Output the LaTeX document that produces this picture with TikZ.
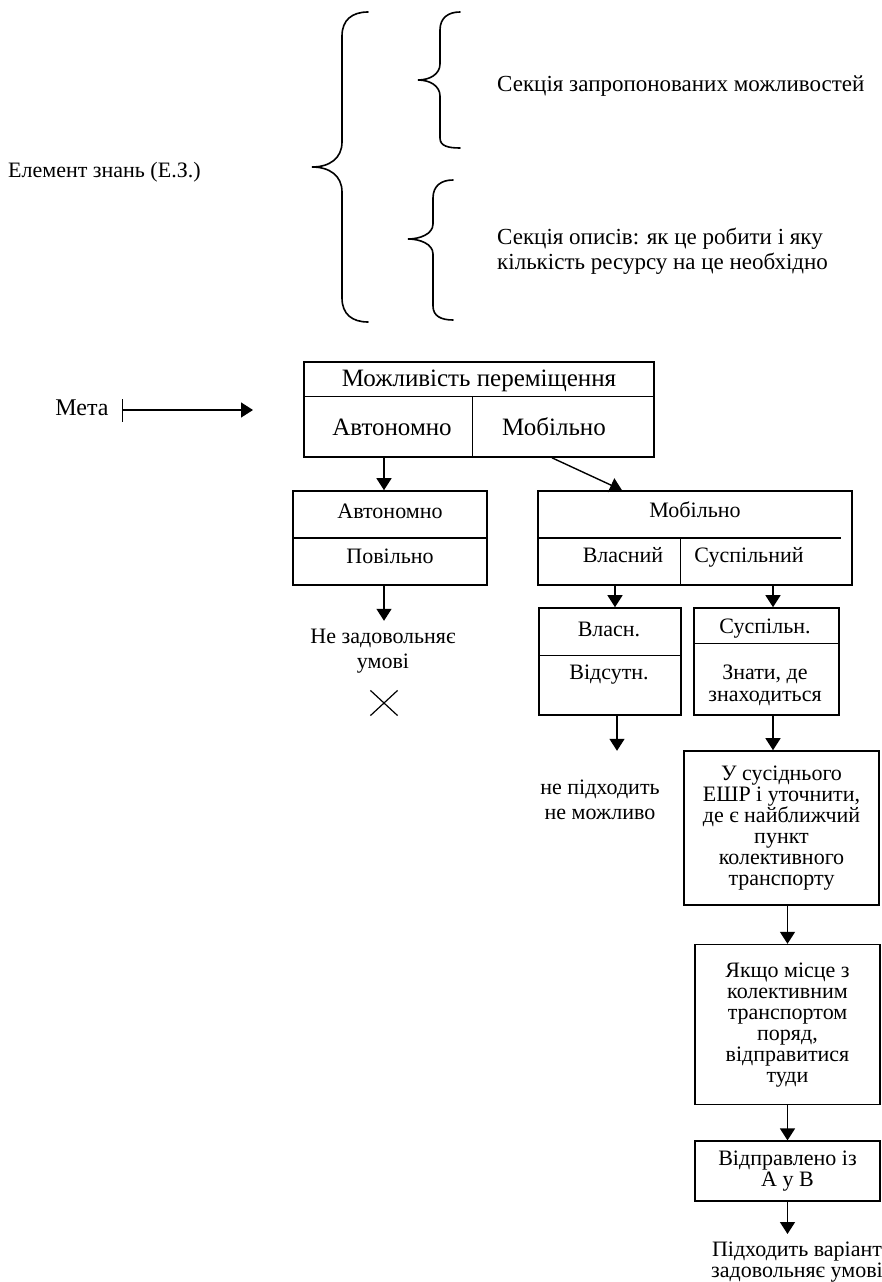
\documentclass[tikz,border=0pt]{standalone}
\usepackage{fontspec}
\setmainfont{Liberation Serif}
\usetikzlibrary{arrows.meta,positioning,shapes.misc}

\begin{document}
\begin{tikzpicture}[
    x=1pt, y=-1pt,
    font=\fontsize{22pt}{21pt}\selectfont,
    box/.style={draw, line width=1.6pt, inner sep=0pt, align=center},
    cell/.style={inner sep=0pt, align=center},
    word/.style={cell, text height=15pt, text depth=4pt},
    twoline/.style={font=\fontsize{22pt}{25pt}\selectfont},
    divider/.style={line width=1.4pt},
    curly/.style={line width=1.6pt, line cap=round},
    arrow/.style={-{Triangle[length=12pt, width=15pt]}, line width=1.4pt},
    goalarrow/.style={{Bar[width=23pt]}-{Triangle[length=12pt, width=15pt]}, line width=1.4pt},
]

\useasboundingbox (0,0) rectangle (882,1282);

% Knowledge element and its two sections
\node[word, anchor=west] (elem) at (8,172) {Елемент знань (Е.З.)};
\node[word, anchor=west, font=\fontsize{23pt}{25pt}\selectfont] (offer) at (497,86) {Секція запропонованих можливостей};
\node[cell, anchor=west, align=left, font=\fontsize{23pt}{25pt}\selectfont] (howto) at (497,251)
    {Секція описів: як це робити і яку\\кількість ресурсу на це необхідно};

% Braces
\draw[curly] (368,12) .. controls (352,12) and (342,20) .. (342,36)
    -- (342,142) .. controls (342,158) and (330,167) .. (312,167)
    .. controls (330,167) and (342,176) .. (342,192)
    -- (342,298) .. controls (342,314) and (352,322) .. (368,322);
\draw[curly] (460,12) .. controls (448,12) and (440,18) .. (440,30)
    -- (440,64) .. controls (440,74) and (430,80) .. (418,80)
    .. controls (430,80) and (440,86) .. (440,96)
    -- (440,138) .. controls (440,146) and (448,148) .. (460,148);
\draw[curly] (453,180) .. controls (441,180) and (433,186) .. (433,198)
    -- (433,224) .. controls (433,234) and (420,239) .. (408,239)
    .. controls (420,239) and (433,244) .. (433,254)
    -- (433,306) .. controls (433,316) and (441,320) .. (453,320);

% Goal
\node[word, font=\fontsize{24pt}{24pt}\selectfont] (meta) at (82,410) {Мета};
\coordinate (metatip) at (253,410);
\draw[goalarrow] ([xshift=13pt]meta.east) -- (metatip);

% Top box
\node[box, minimum width=350pt, minimum height=95pt] (goal) at (479,409.5) {};
\draw[divider] ([yshift=-35pt]goal.north west) -- ([yshift=-35pt]goal.north east);
\draw[divider] ([xshift=169pt, yshift=-35pt]goal.north west) -- ([xshift=169pt]goal.south west);
\node[word, font=\fontsize{25pt}{25pt}\selectfont] (goaltitle) at (479,381) {Можливість переміщення};
\node[word, font=\fontsize{25pt}{25pt}\selectfont] (goalauto) at (392,430) {Автономно};
\node[word, font=\fontsize{25pt}{25pt}\selectfont] (goalmob) at (554,430) {Мобільно};

% Second row
\node[box, minimum width=194pt, minimum height=94pt] (auto) at (390,538) {};
\draw[divider] (auto.west) -- (auto.east);
\node[word] (autotitle) at (390,513) {Автономно};
\node[word] (autoslow) at (390,558) {Повільно};

\node[box, minimum width=314pt, minimum height=94pt] (mob) at (695,538) {};
\draw[divider] (mob.west) -- ([xshift=-12pt]mob.east);
\draw[divider] ([xshift=143pt]mob.west) -- ([xshift=143pt]mob.south west);
\node[word] (mobtitle) at (695,512) {Мобільно};
\node[word] (mobown) at (623,557) {Власний};
\node[word] (mobpub) at (749,557) {Суспільний};

\draw[arrow] ([xshift=-6pt]auto.north |- goal.south) -- ([xshift=-6pt]auto.north);
\draw[arrow] ([xshift=73pt]goal.south) -- ([xshift=-73pt]mob.north);

% Left branch
\draw[arrow] ([xshift=-6pt]auto.south) -- ([xshift=-6pt, yshift=-35pt]auto.south);
\node[cell, twoline, below=43pt of auto, xshift=-7pt] (fail) {Не задовольняє\\умові};
\node[cross out, draw, line width=1.2pt, minimum width=26pt, minimum height=24pt, inner sep=0pt] (nope) at (384,703) {};

% Right branch
\node[box, minimum width=142pt, minimum height=107pt] (own) at (610,661.5) {};
\draw[divider] ([yshift=-48pt]own.north west) -- ([yshift=-48pt]own.north east);
\node[word] (owntitle) at (609,631) {Власн.};
\node[word] (ownnone) at (609,674) {Відсутн.};

\node[box, minimum width=145pt, minimum height=107pt] (pub) at (766.5,661.5) {};
\draw[divider] ([yshift=-36pt]pub.north west) -- ([yshift=-36pt]pub.north east);
\node[word] (pubtitle) at (765,628) {Суспільн.};
\node[cell, font=\fontsize{22pt}{22pt}\selectfont] (pubwhere) at (765,685) {Знати, де\\знаходиться};

\draw[arrow] ([xshift=5pt]own.north |- mob.south) -- ([xshift=5pt]own.north);
\draw[arrow] ([xshift=6.5pt]pub.north |- mob.south) -- ([xshift=6.5pt]pub.north);

\draw[arrow] ([xshift=7pt]own.south) -- ([xshift=7pt, yshift=-35pt]own.south);
\node[cell, twoline, below=64pt of own, xshift=-10pt] (nofit) {не підходить\\не можливо};

% Public transport chain
\node[box, minimum width=195pt, minimum height=154pt] (ask) at (781.5,828)
    {У сусіднього\\ЕШР і уточнити,\\де є найближчий\\пункт\\колективного\\транспорту};
\node[box, minimum width=185pt, minimum height=160pt, below=38pt of ask, xshift=6pt] (go)
    {Якщо місце з\\колективним\\транспортом\\поряд,\\відправитися\\туди};
\node[box, minimum width=185pt, minimum height=60pt, below=35pt of go] (sent)
    {Відправлено із\\А у В};
\node[cell, below=40pt of sent, xshift=9.5pt] (final) {Підходить варіант\\задовольняє умові};

\draw[arrow] ([xshift=6.5pt]pub.south) -- ([xshift=6.5pt]pub.south |- ask.north);
\draw[arrow] (go.north |- ask.south) -- (go.north);
\draw[arrow] (go.south) -- (sent.north);
\draw[arrow] (sent.south) -- ([yshift=-32pt]sent.south);

\end{tikzpicture}
\end{document}
